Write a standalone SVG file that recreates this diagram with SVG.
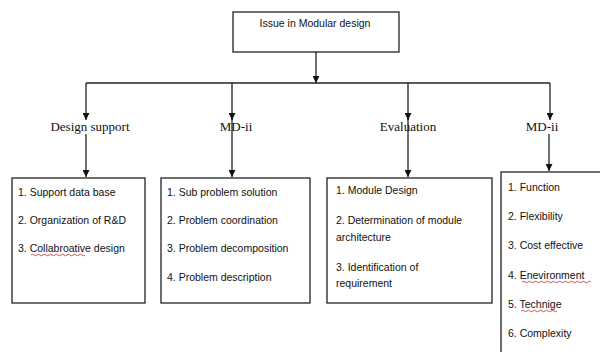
<svg xmlns="http://www.w3.org/2000/svg" width="600" height="352" viewBox="0 0 600 352">
<style>
.box{fill:#fff;stroke:#222;stroke-width:1.3}
.t{font-family:"Liberation Sans",Arial,sans-serif;font-size:10.5px;fill:#111}
.lbl{font-family:"Liberation Serif","Times New Roman",serif;font-size:13px;fill:#111}
.ln{stroke:#222;stroke-width:1.3;fill:none}
.sq{stroke:#d02020;stroke-width:0.8;fill:none}
</style>
<defs>
<marker id="ah" viewBox="0 0 10 10" refX="10" refY="5" markerWidth="7" markerHeight="7" orient="auto" markerUnits="userSpaceOnUse">
<path d="M0,0 L10,5 L0,10 z" fill="#111"/>
</marker>
</defs>
<rect width="600" height="352" fill="#fff"/>
<g id="connectors">
<path class="ln" d="M316,52 V83" marker-end="url(#ah)"/>
<path class="ln" d="M86,83 H550"/>
<path class="ln" d="M86,83 V120" marker-end="url(#ah)"/>
<path class="ln" d="M232,83 V120" marker-end="url(#ah)"/>
<path class="ln" d="M408,83 V120" marker-end="url(#ah)"/>
<path class="ln" d="M550,83 V120" marker-end="url(#ah)"/>
<path class="ln" d="M86,134 V177" marker-end="url(#ah)"/>
<path class="ln" d="M232,118 V177" marker-end="url(#ah)"/>
<path class="ln" d="M408,118 V177" marker-end="url(#ah)"/>
<path class="ln" d="M549,134 V171" marker-end="url(#ah)"/>
</g>
<g id="root">
<rect class="box" x="233" y="12" width="166" height="40"/>
<text class="t" x="315" y="27" text-anchor="middle">Issue in Modular design</text>
</g>
<g id="design-support">
<text class="lbl" x="90" y="131" text-anchor="middle">Design support</text>
</g>
<g id="md-ii-1">
<text class="lbl" x="236" y="131" text-anchor="middle">MD-ii</text>
</g>
<g id="evaluation">
<text class="lbl" x="408" y="131" text-anchor="middle">Evaluation</text>
</g>
<g id="md-ii-2">
<text class="lbl" x="542" y="131" text-anchor="middle">MD-ii</text>
</g>
<g id="box-design-support">
<rect class="box" x="12" y="178" width="133" height="125"/>
<text class="t" x="18" y="196">1. Support data base</text>
<text class="t" x="18" y="224">2. Organization of R&amp;D</text>
<text class="t" x="18" y="252">3. Collabroative design</text>
<path class="sq" d="M31,255 q1.5,-1.5 3,0 t3,0 t3,0 t3,0 t3,0 t3,0 t3,0 t3,0 t3,0 t3,0 t3,0 t3,0 t3,0 t3,0 t3,0 t3,0 t3,0 t3,0"/>
</g>
<g id="box-md-ii-1">
<rect class="box" x="161" y="178" width="149" height="125"/>
<text class="t" x="167" y="196">1. Sub problem solution</text>
<text class="t" x="167" y="224">2. Problem coordination</text>
<text class="t" x="167" y="252">3. Problem decomposition</text>
<text class="t" x="167" y="281">4. Problem description</text>
</g>
<g id="box-evaluation">
<rect class="box" x="327" y="178" width="165" height="125"/>
<text class="t" x="336" y="194">1. Module Design</text>
<text class="t" x="336" y="224">2. Determination of module</text>
<text class="t" x="336" y="241">architecture</text>
<text class="t" x="336" y="271">3. Identification of</text>
<text class="t" x="336" y="287">requirement</text>
</g>
<g id="box-md-ii-2">
<rect class="box" x="501" y="172" width="110" height="190"/>
<text class="t" x="508" y="191">1. Function</text>
<text class="t" x="508" y="220">2. Flexibility</text>
<text class="t" x="508" y="249">3. Cost effective</text>
<text class="t" x="508" y="279">4. Enevironment</text>
<text class="t" x="508" y="308">5. Technige</text>
<text class="t" x="508" y="337">6. Complexity</text>
<path class="sq" d="M522,282 q1.5,-1.5 3,0 t3,0 t3,0 t3,0 t3,0 t3,0 t3,0 t3,0 t3,0 t3,0 t3,0 t3,0 t3,0 t3,0 t3,0 t3,0 t3,0 t3,0 t3,0 t3,0 t3,0 t3,0 t3,0"/>
<path class="sq" d="M521,311 q1.5,-1.5 3,0 t3,0 t3,0 t3,0 t3,0 t3,0 t3,0 t3,0 t3,0 t3,0 t3,0 t3,0"/>
</g>
</svg>
